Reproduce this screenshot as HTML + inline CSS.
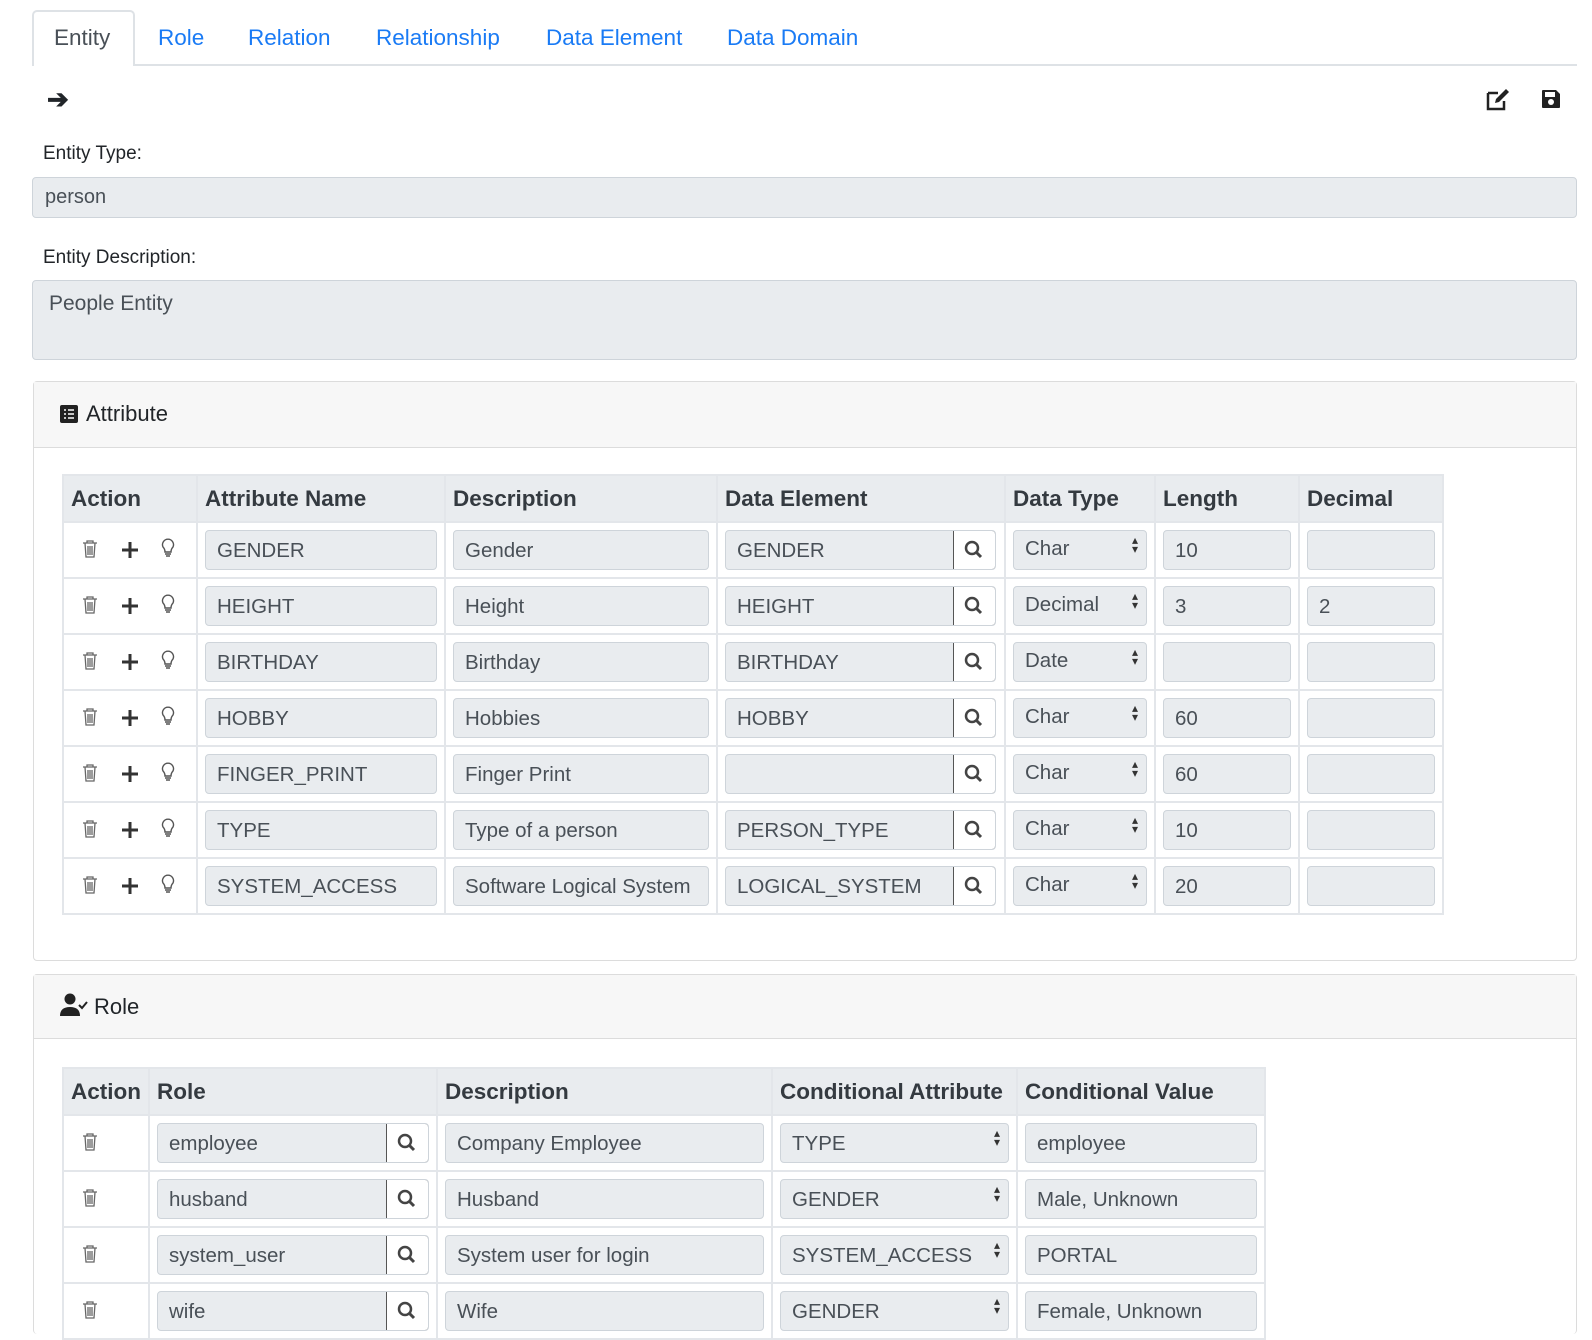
<!DOCTYPE html>
<html><head><meta charset="utf-8"><style>
*{box-sizing:border-box;margin:0;padding:0}
body{width:1592px;height:1328px;overflow:hidden;background:#fff;font-family:"Liberation Sans",sans-serif;color:#212529;position:relative}
.a{position:absolute}
.tab{position:absolute;top:10px;height:56px;font-size:22.5px;line-height:56px;color:#1a7bf5}
.inp{position:absolute;background:#e9ecef;border:1px solid #ced4da;border-radius:4px;font-size:20px;color:#495057;padding-left:12px;line-height:38px;height:40px}
.panel{position:absolute;left:33px;width:1544px;border:1px solid #dcdcdc;border-radius:4px}
.ph{height:66px;background:#f7f7f7;border-bottom:1px solid #dcdcdc;font-size:22px;line-height:64px;padding-left:26px}
table{position:absolute;border-collapse:collapse;left:28px}
td,th{border:2px solid #e3e6ea;position:relative;height:56px;padding:0}
th{background:#e9ecef;height:47px;text-align:left;font-size:22.5px;color:#343a40;padding-left:7px;white-space:nowrap}
.ci{position:absolute;left:7px;right:7px;top:7px;height:40px;background:#e9ecef;border:1px solid #ced4da;border-radius:4px;font-size:20.5px;color:#495057;padding-left:11px;line-height:40px;white-space:nowrap;overflow:hidden}
.sb{position:absolute;right:-1px;top:-1px;width:43px;height:40px;background:#fff;border:1.5px solid #555;border-radius:0 4px 4px 0}
.sel::after{content:"\25B4\A\25BE";white-space:pre;position:absolute;right:8px;top:5px;font-size:12px;line-height:9px;color:#333}
.ic{position:absolute;top:16px;font-size:20px;color:#555}
</style></head><body>
<div class="a" style="left:32px;top:64px;width:1545px;border-top:2px solid #dee2e6"></div>
<div class="a" style="left:32px;top:10px;width:103px;height:56px;border:2px solid #dee2e6;border-bottom:none;border-radius:5px 5px 0 0;background:#fff"></div>
<div class="tab" style="left:54px;color:#495057">Entity</div>
<div class="tab" style="left:158px">Role</div>
<div class="tab" style="left:248px">Relation</div>
<div class="tab" style="left:376px">Relationship</div>
<div class="tab" style="left:546px">Data Element</div>
<div class="tab" style="left:727px">Data Domain</div>
<div class="a" style="left:47px;top:84px;font-size:26px;font-weight:bold">&#x2794;</div>
<svg class="a" style="left:1485px;top:88px" width="26" height="24" viewBox="0 0 26 24"><path d="M3 5h10M3 5v16h16v-8" stroke="#222" stroke-width="2.5" fill="none"/><path d="M10 15l1-4 10-10 3 3-10 10z" fill="#222"/></svg>
<svg class="a" style="left:1541px;top:89px" width="20" height="20" viewBox="0 0 20 20"><path d="M1 2q0-1 1-1h13l4 4v13q0 1-1 1H2q-1 0-1-1z" fill="#222"/><rect x="4" y="3" width="10" height="5" fill="#fff"/><circle cx="10" cy="13" r="3" fill="#fff"/></svg>
<div class="a" style="left:43px;top:143px;font-size:19px">Entity Type:</div>
<div class="inp" style="left:32px;top:177px;width:1545px;height:41px;font-size:20px">person</div>
<div class="a" style="left:43px;top:247px;font-size:19px">Entity Description:</div>
<div class="inp" style="left:32px;top:280px;width:1545px;height:80px;font-size:21px;line-height:21px;padding:12px 16px">People Entity</div>
<div class="panel" style="top:381px;height:580px">
<div class="ph"><svg width="18" height="18" viewBox="0 0 18 18" style="margin-right:8px;vertical-align:-2px"><rect width="18" height="18" rx="2" fill="#222"/><path d="M4 5h2M4 9h2M4 13h2M8 5h6M8 9h6M8 13h6" stroke="#fff" stroke-width="1.6"/></svg>Attribute</div>
<table style="top:92px">
<tr><th style="width:134px">Action</th><th style="width:248px">Attribute Name</th><th style="width:272px">Description</th><th style="width:288px">Data Element</th><th style="width:150px">Data Type</th><th style="width:144px">Length</th><th style="width:144px">Decimal</th></tr>
</table>
</div>
<div class="panel" style="top:974px;height:360px;border-bottom:none">
<div class="ph" style="height:64px"><svg width="28" height="24" viewBox="0 0 28 24" style="margin-right:6px;vertical-align:-3px"><circle cx="10" cy="6" r="5.5" fill="#222"/><path d="M0 23q0-9 10-9t10 9z" fill="#222"/><path d="M19 12l3 3 5-6" stroke="#222" stroke-width="2" fill="none"/></svg>Role</div>
<table style="top:92px">
<tr><th style="width:86px">Action</th><th style="width:288px">Role</th><th style="width:335px">Description</th><th style="width:245px">Conditional Attribute</th><th style="width:248px">Conditional Value</th></tr>
</table>
</div>
<script>
var A=[["GENDER","Gender","GENDER","Char","10",""],["HEIGHT","Height","HEIGHT","Decimal","3","2"],["BIRTHDAY","Birthday","BIRTHDAY","Date","",""],["HOBBY","Hobbies","HOBBY","Char","60",""],["FINGER_PRINT","Finger Print","","Char","60",""],["TYPE","Type of a person","PERSON_TYPE","Char","10",""],["SYSTEM_ACCESS","Software Logical System","LOGICAL_SYSTEM","Char","20",""]];
var mag='<div class="sb"><svg width="40" height="38" viewBox="0 0 40 38"><circle cx="18" cy="17" r="6" stroke="#444" stroke-width="2.5" fill="none"/><path d="M22 21l5 5" stroke="#444" stroke-width="3"/></svg></div>';
var trash='<svg class="ic" style="left:18px" width="16" height="20" viewBox="0 0 16 20"><path d="M1 4h14M5 4V2h6v2M3 4l1 14h8l1-14M6 7v9M8 7v9M10 7v9" stroke="#666" stroke-width="1.3" fill="none"/></svg>';
var plus='<svg class="ic" style="left:57px;top:18px" width="18" height="18" viewBox="0 0 18 18"><path d="M9 1v16M1 9h16" stroke="#333" stroke-width="3"/></svg>';
var bulb='<svg class="ic" style="left:97px;top:15px" width="14" height="20" viewBox="0 0 14 20"><path d="M4 14q0-3-2-5a5.5 5.5 0 1 1 10 0q-2 2-2 5z" stroke="#555" stroke-width="1.4" fill="none"/><path d="M4 16h6M5 18h4" stroke="#555" stroke-width="1.4"/></svg>';
var t=document.querySelectorAll('table');var h='';
A.forEach(function(r){h+='<tr><td>'+trash+plus+bulb+'</td><td><div class="ci">'+r[0]+'</div></td><td><div class="ci">'+r[1]+'</div></td><td><div class="ci" style="right:8px">'+r[2]+mag+'</div></td><td><div class="ci sel" style="line-height:36px">'+r[3]+'</div></td><td><div class="ci">'+r[4]+'</div></td><td><div class="ci">'+r[5]+'</div></td></tr>';});
t[0].insertAdjacentHTML('beforeend',h);
var R=[["employee","Company Employee","TYPE","employee"],["husband","Husband","GENDER","Male, Unknown"],["system_user","System user for login","SYSTEM_ACCESS","PORTAL"],["wife","Wife","GENDER","Female, Unknown"]];h='';
R.forEach(function(r){h+='<tr><td>'+trash+'</td><td><div class="ci">'+r[0]+mag+'</div></td><td><div class="ci">'+r[1]+'</div></td><td><div class="ci sel">'+r[2]+'</div></td><td><div class="ci">'+r[3]+'</div></td></tr>';});
t[1].insertAdjacentHTML('beforeend',h);
</script>
</body></html>
